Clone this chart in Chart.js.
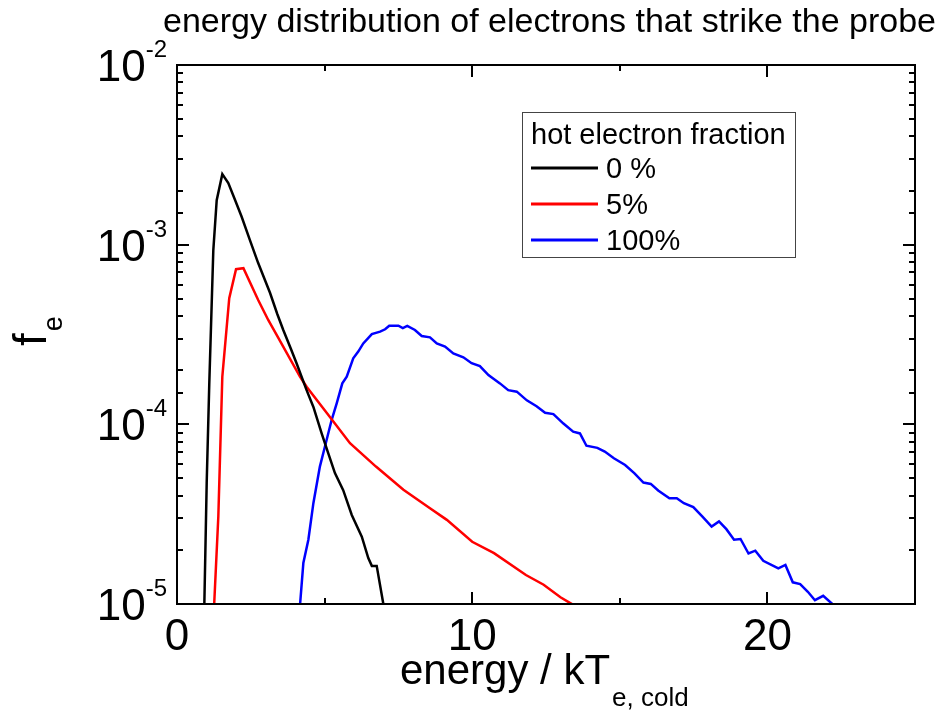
<!DOCTYPE html>
<html>
<head>
<meta charset="utf-8">
<title>energy distribution of electrons that strike the probe</title>
<script src="https://cdn.jsdelivr.net/npm/chart.js@4/dist/chart.umd.min.js"></script>
<style>
  html, body { margin: 0; padding: 0; background: #fff; }
  #wrap { width: 945px; height: 713px; }
</style>
</head>
<body>
<div id="wrap"><canvas id="chart"></canvas></div>
<script>
// energy in units of kT_e,cold, f_e per series
const coldX = [0.90, 1.006, 1.094, 1.23, 1.345, 1.535, 1.738, 1.95, 2.19, 2.47, 2.75, 3.15, 3.40, 3.60, 3.85, 4.05, 4.39, 4.62, 4.90, 5.125, 5.35, 5.63, 5.92, 6.26, 6.48, 6.60, 6.765, 6.99, 7.10];
const coldY = [6e-6, 4.72e-5, 1.70e-4, 9.3e-4, 1.77e-3, 2.47e-3, 2.20e-3, 1.80e-3, 1.43e-3, 1.06e-3, 7.9e-4, 5.4e-4, 4.1e-4, 3.35e-4, 2.65e-4, 2.19e-4, 1.55e-4, 1.25e-4, 8.9e-5, 6.9e-5, 5.35e-5, 4.3e-5, 3.13e-5, 2.37e-5, 1.80e-5, 1.63e-5, 1.63e-5, 1.0e-5, 7e-6];

const hot5X = [1.22, 1.26, 1.40, 1.535, 1.77, 2.00, 2.25, 2.75, 3.09, 3.38, 4.17, 4.39, 5.18, 5.86, 6.74, 7.67, 8.57, 9.14, 10.0, 10.74, 11.82, 12.42, 12.99, 13.37, 13.5];
const hot5Y = [6e-6, 1.0e-5, 3.07e-5, 1.84e-4, 5.04e-4, 7.3e-4, 7.4e-4, 4.92e-4, 3.81e-4, 3.14e-4, 1.84e-4, 1.62e-4, 1.10e-4, 7.85e-5, 5.82e-5, 4.32e-5, 3.41e-5, 2.94e-5, 2.22e-5, 1.92e-5, 1.45e-5, 1.28e-5, 1.09e-5, 1.0e-5, 9e-6];

const hot100X = [4.12, 4.17, 4.28, 4.45, 4.62, 4.84, 5.01, 5.24, 5.41, 5.60, 5.75, 5.97, 6.14, 6.31, 6.60, 6.88, 7.05, 7.19, 7.50, 7.65, 7.80, 8.06, 8.29, 8.57, 8.80, 9.08, 9.36, 9.70, 9.98, 10.26, 10.55, 10.94, 11.22, 11.51, 11.85, 12.18, 12.47, 12.75, 13.09, 13.42, 13.65, 13.87, 14.24, 14.49, 14.80, 15.18, 15.49, 15.80, 16.05, 16.30, 16.68, 16.93, 17.17, 17.49, 17.80, 18.11, 18.36, 18.61, 18.87, 19.09, 19.36, 19.59, 19.86, 20.37, 20.61, 20.86, 21.11, 21.37, 21.61, 21.89, 22.20, 22.35];
const hot100Y = [7e-6, 1.0e-5, 1.69e-5, 2.28e-5, 3.64e-5, 5.82e-5, 7.5e-5, 1.06e-4, 1.31e-4, 1.69e-4, 1.84e-4, 2.33e-4, 2.54e-4, 2.82e-4, 3.18e-4, 3.28e-4, 3.38e-4, 3.54e-4, 3.54e-4, 3.43e-4, 3.53e-4, 3.35e-4, 3.10e-4, 3.05e-4, 2.82e-4, 2.71e-4, 2.48e-4, 2.36e-4, 2.19e-4, 2.11e-4, 1.88e-4, 1.69e-4, 1.55e-4, 1.52e-4, 1.36e-4, 1.26e-4, 1.16e-4, 1.14e-4, 1.01e-4, 9.1e-5, 8.9e-5, 7.6e-5, 7.4e-5, 7.05e-5, 6.47e-5, 5.94e-5, 5.35e-5, 4.74e-5, 4.66e-5, 4.28e-5, 3.88e-5, 3.88e-5, 3.64e-5, 3.46e-5, 3.06e-5, 2.70e-5, 2.88e-5, 2.61e-5, 2.28e-5, 2.30e-5, 1.91e-5, 1.98e-5, 1.74e-5, 1.58e-5, 1.65e-5, 1.32e-5, 1.29e-5, 1.17e-5, 1.05e-5, 1.11e-5, 1.0e-5, 8.5e-6];

const seriesLabels = ['0 %', '5%', '100%'];
const seriesColors = ['#000000', '#ff0000', '#0000ff'];
const legendTitle = 'hot electron fraction';
const xLabels = [0, 10, 20];
const yLabels = [1e-2, 1e-3, 1e-4, 1e-5];

const FONT = '"Liberation Sans", Arial, sans-serif';

function pairs(xs, ys) {
  return xs.map((x, i) => ({ x: x, y: ys[i] }));
}

// frame, inward ticks, labels, titles and legend box
const igorStyle = {
  id: 'igorStyle',
  afterDraw(chart) {
    const ctx = chart.ctx;
    const area = chart.chartArea;
    const xs = chart.scales.x;
    const ys = chart.scales.y;

    ctx.save();
    ctx.strokeStyle = '#000';
    ctx.fillStyle = '#000';
    ctx.lineWidth = 2;
    ctx.strokeRect(area.left, area.top, area.right - area.left, area.bottom - area.top);

    // x ticks every 5, longer at labelled values
    ctx.beginPath();
    for (let v = 0; v <= 25; v += 5) {
      const px = Math.round(xs.getPixelForValue(v));
      const len = v % 10 === 0 ? 12 : 6;
      ctx.moveTo(px, area.bottom); ctx.lineTo(px, area.bottom - len);
      ctx.moveTo(px, area.top); ctx.lineTo(px, area.top + len);
    }
    // y ticks from the log scale
    ys.ticks.forEach(t => {
      const py = Math.round(ys.getPixelForValue(t.value));
      const mant = t.value / Math.pow(10, Math.floor(Math.log10(t.value) + 1e-9));
      const major = Math.abs(mant - 1) < 1e-6;
      const len = major ? 12 : 6;
      ctx.moveTo(area.left, py); ctx.lineTo(area.left + len, py);
      ctx.moveTo(area.right, py); ctx.lineTo(area.right - len, py);
    });
    ctx.stroke();

    // x tick labels
    ctx.font = '44px ' + FONT;
    ctx.textAlign = 'center';
    ctx.textBaseline = 'alphabetic';
    xLabels.forEach(v => {
      ctx.fillText(String(v), xs.getPixelForValue(v), 650);
    });

    // y tick labels as 10 with a raised exponent
    yLabels.forEach(v => {
      const py = ys.getPixelForValue(v);
      const exp = String(Math.round(Math.log10(v)));
      ctx.font = '24px ' + FONT;
      const ew = ctx.measureText(exp).width;
      ctx.textAlign = 'right';
      ctx.fillText(exp, area.left - 10, py - 8);
      ctx.font = '44px ' + FONT;
      ctx.fillText('10', area.left - 10 - ew, py + 16);
    });

    // chart title
    ctx.font = '34px ' + FONT;
    ctx.textAlign = 'left';
    ctx.fillText('energy distribution of electrons that strike the probe', 163, 32);

    // x axis title with subscript
    ctx.font = '42px ' + FONT;
    ctx.fillText('energy / kT', 400, 684);
    const mw = ctx.measureText('energy / kT').width;
    ctx.font = '26px ' + FONT;
    ctx.fillText('e, cold', 400 + mw + 2, 706);

    // y axis title, rotated
    ctx.save();
    ctx.translate(46, 346);
    ctx.rotate(-Math.PI / 2);
    ctx.font = '46px ' + FONT;
    ctx.fillText('f', 0, 0);
    const fw = ctx.measureText('f').width;
    ctx.font = '27px ' + FONT;
    ctx.fillText('e', fw + 2, 16);
    ctx.restore();

    // legend
    ctx.lineWidth = 1;
    ctx.strokeStyle = '#444';
    ctx.strokeRect(522.5, 112.5, 273, 145);
    ctx.font = '29px ' + FONT;
    ctx.fillStyle = '#000';
    ctx.fillText(legendTitle, 531, 144);
    chart.data.datasets.forEach((ds, i) => {
      const ly = 168 + i * 36;
      ctx.strokeStyle = ds.borderColor;
      ctx.lineWidth = 3;
      ctx.beginPath();
      ctx.moveTo(531, ly); ctx.lineTo(598, ly);
      ctx.stroke();
      ctx.fillStyle = '#000';
      ctx.fillText(ds.label, 606, ly + 10);
    });
    ctx.restore();
  }
};

new Chart(document.getElementById('chart'), {
  type: 'line',
  data: {
    datasets: [
      { label: seriesLabels[0], data: pairs(coldX, coldY), borderColor: seriesColors[0] },
      { label: seriesLabels[1], data: pairs(hot5X, hot5Y), borderColor: seriesColors[1] },
      { label: seriesLabels[2], data: pairs(hot100X, hot100Y), borderColor: seriesColors[2] }
    ]
  },
  options: {
    responsive: true,
    maintainAspectRatio: false,
    animation: false,
    layout: { padding: { left: 177, top: 65, right: 30, bottom: 109 } },
    elements: {
      point: { radius: 0 },
      line: { borderWidth: 2.5, tension: 0, fill: false }
    },
    scales: {
      x: { type: 'linear', min: 0, max: 25, display: false },
      y: { type: 'logarithmic', min: 1e-5, max: 1e-2, display: false }
    },
    plugins: {
      legend: { display: false },
      tooltip: { enabled: false }
    }
  },
  plugins: [igorStyle]
});
</script>
</body>
</html>
